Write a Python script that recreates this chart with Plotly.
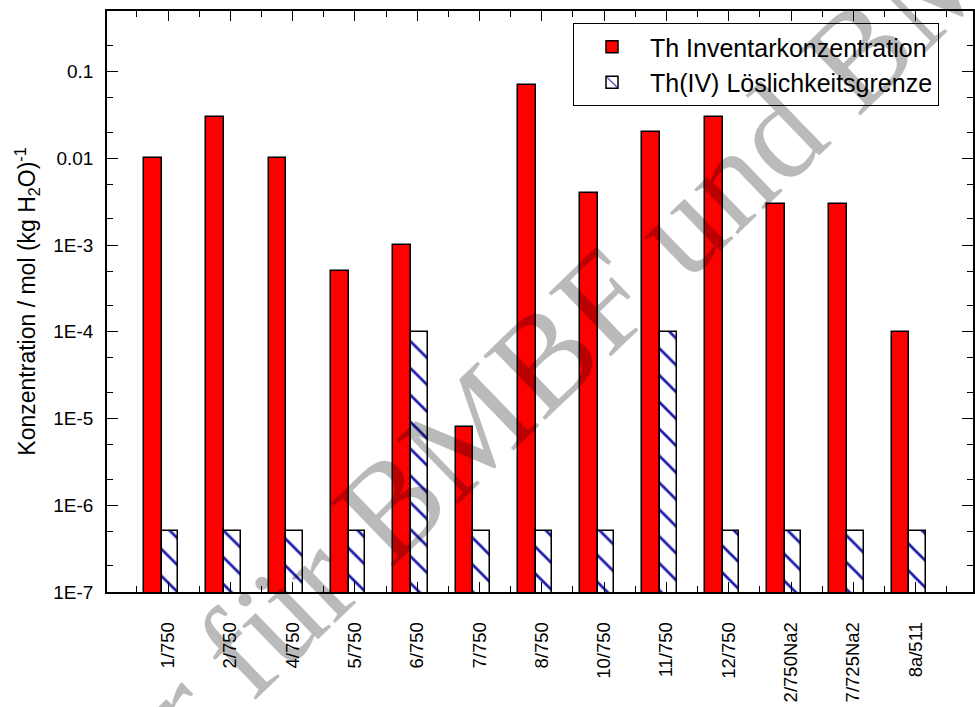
import numpy as np
import plotly.graph_objects as go

categories = ["1/750", "2/750", "4/750", "5/750", "6/750", "7/750", "8/750",
              "10/750", "11/750", "12/750", "2/750Na2", "7/725Na2", "8a/511"]
inventar = [0.01, 0.03, 0.01, 5e-4, 1e-3, 8e-6, 0.07, 4e-3, 0.02, 0.03, 3e-3, 3e-3, 1e-4]
loeslich = [5e-7, 5e-7, 5e-7, 5e-7, 1e-4, 5e-7, 5e-7, 5e-7, 1e-4, 5e-7, 5e-7, 5e-7, 5e-7]
ytick_vals = [1e-7, 1e-6, 1e-5, 1e-4, 1e-3, 0.01, 0.1]
ytick_text = ["1E-7", "1E-6", "1E-5", "1E-4", "1E-3", "0.01", "0.1"]

xpos = list(range(len(categories)))
font_family = "Liberation Sans, Arial, sans-serif"

fig = go.Figure()
fig.add_trace(go.Bar(
    x=xpos, y=inventar, name="Th Inventarkonzentration",
    offset=-0.385, width=0.285,
    marker=dict(color="#ff0000", line=dict(color="#000000", width=1.5)),
))
fig.add_trace(go.Bar(
    x=xpos, y=loeslich, name="Th(IV) Löslichkeitsgrenze",
    offset=-0.1, width=0.265,
    marker=dict(color="#ffffff", line=dict(color="#000000", width=1.5),
                pattern=dict(shape="\\", fgcolor="#1a1aaa", bgcolor="#ffffff",
                             fgopacity=1, size=19, solidity=0.14, fillmode="replace")),
))

minor_x = [i - 0.5 for i in range(len(categories) + 1)]

fig.update_layout(
    width=975, height=707, autosize=False,
    margin=dict(l=107, r=2, t=11, b=115, autoexpand=False),
    paper_bgcolor="white", plot_bgcolor="white",
    font=dict(family=font_family, color="black"),
    showlegend=True,
    legend=dict(x=(573 - 107) / 866, y=(592 - 23) / 581, xanchor="left", yanchor="top",
                bgcolor="white", bordercolor="black", borderwidth=1,
                font=dict(size=25, family=font_family),
                tracegroupgap=0, itemwidth=66),
    bargap=0,
)

fig.update_xaxes(
    range=[-0.979, 12.92], automargin=False,
    tickmode="array", tickvals=xpos, ticktext=categories,
    tickangle=-90, tickfont=dict(size=18.5, family=font_family),
    ticks="inside", ticklen=10, tickwidth=1.2, tickcolor="black",
    ticklabelstandoff=21,
    minor=dict(tickmode="array", tickvals=minor_x, ticks="inside",
               ticklen=6, tickwidth=1.2, tickcolor="black"),
    showline=True, linecolor="black", linewidth=1.5, mirror="allticks",
    showgrid=False, zeroline=False,
)

fig.update_yaxes(
    type="log", range=[-7, np.log10(0.5)], automargin=False,
    tickmode="array", tickvals=ytick_vals, ticktext=ytick_text,
    tickfont=dict(size=19, family=font_family),
    ticks="inside", ticklen=11, tickwidth=1.2, tickcolor="black",
    ticklabelstandoff=8,
    minor=dict(ticks="inside", ticklen=6, tickwidth=1.2, tickcolor="black", showgrid=False),
    showline=True, linecolor="black", linewidth=1.5, mirror="allticks",
    showgrid=False, zeroline=False,
    title=dict(text="Konzentration / mol (kg H<sub>2</sub>O)<sup>-1</sup>",
               font=dict(size=23, family=font_family), standoff=11),
)

fig.add_annotation(
    text="Nur für BMBF und BMWi",
    xref="paper", yref="paper", x=(568 - 107) / 866, y=(592 - 334) / 581,
    xanchor="center", yanchor="middle", showarrow=False,
    textangle=-44,
    font=dict(size=136, family="Liberation Serif, Times New Roman, serif",
              color="rgba(0,0,0,0.27)"),
)

post = ("document.body.style.margin='0px';document.body.style.overflow='hidden';"
        "var gd=document.getElementById('{plot_id}');"
        "Plotly.relayout(gd,{width:975,height:707});")
fig.write_html("out.html", config={"responsive": False, "displayModeBar": False},
               post_script=post)
